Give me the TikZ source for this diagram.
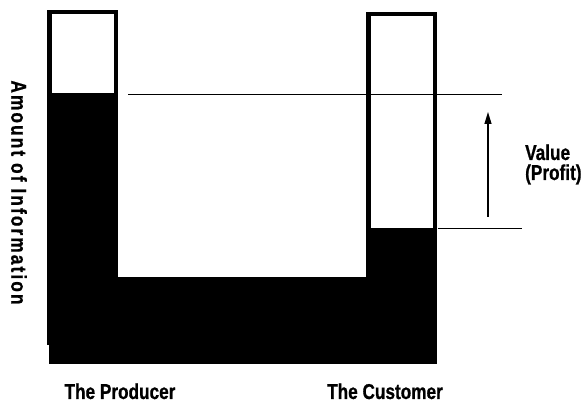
\documentclass[tikz,border=0pt]{standalone}
\usepackage{fontspec}
\setmainfont{Liberation Sans}[FakeStretch=0.8,BoldFeatures={FakeBold=0.8}]
\usetikzlibrary{arrows.meta}

\begin{document}
\begin{tikzpicture}[x=1pt,y=-1pt,>={Triangle[length=12pt,width=7pt]},
    every node/.style={font=\fontsize{21.5}{20}\selectfont\bfseries,inner sep=0pt},
    tube/.style={draw,line width=4.5pt},
    level/.style={line width=1pt}]
    \useasboundingbox (0,0) rectangle (582,403);
    \coordinate (prodtop) at (128,95);
    \coordinate (prodmark) at (502,95);
    \coordinate (custtop) at (438,229);
    \coordinate (custmark) at (522,229);
    \coordinate (gainlow) at (488,217);
    \coordinate (gainhigh) at (488,112);
    \fill (47,95) rectangle (118,345);
    \fill (49,277) rectangle (437,364);
    \fill (366,228) rectangle (437,364);
    \draw[tube] (49.25,12.25) rectangle (115.75,95);
    \draw[tube] (368.25,14.25) rectangle (434.75,361.75);
    \draw[level] (prodtop) -- (prodmark);
    \draw[level] (custtop) -- (custmark);
    \draw[->,line width=1.2pt] (gainlow) -- (gainhigh);
    \node[anchor=base] (producer) at (120,399) {The Producer};
    \node[anchor=base] (customer) at (385,399) {The Customer};
    \node[anchor=base west] (value) at (525,160) {Value};
    \node[anchor=base west] (profit) at (525,180) {(Profit)};
    \node[rotate=-90] (amount) at (19,192.5)
        {\addfontfeature{LetterSpace=10}Amount of Information};
\end{tikzpicture}
\end{document}
